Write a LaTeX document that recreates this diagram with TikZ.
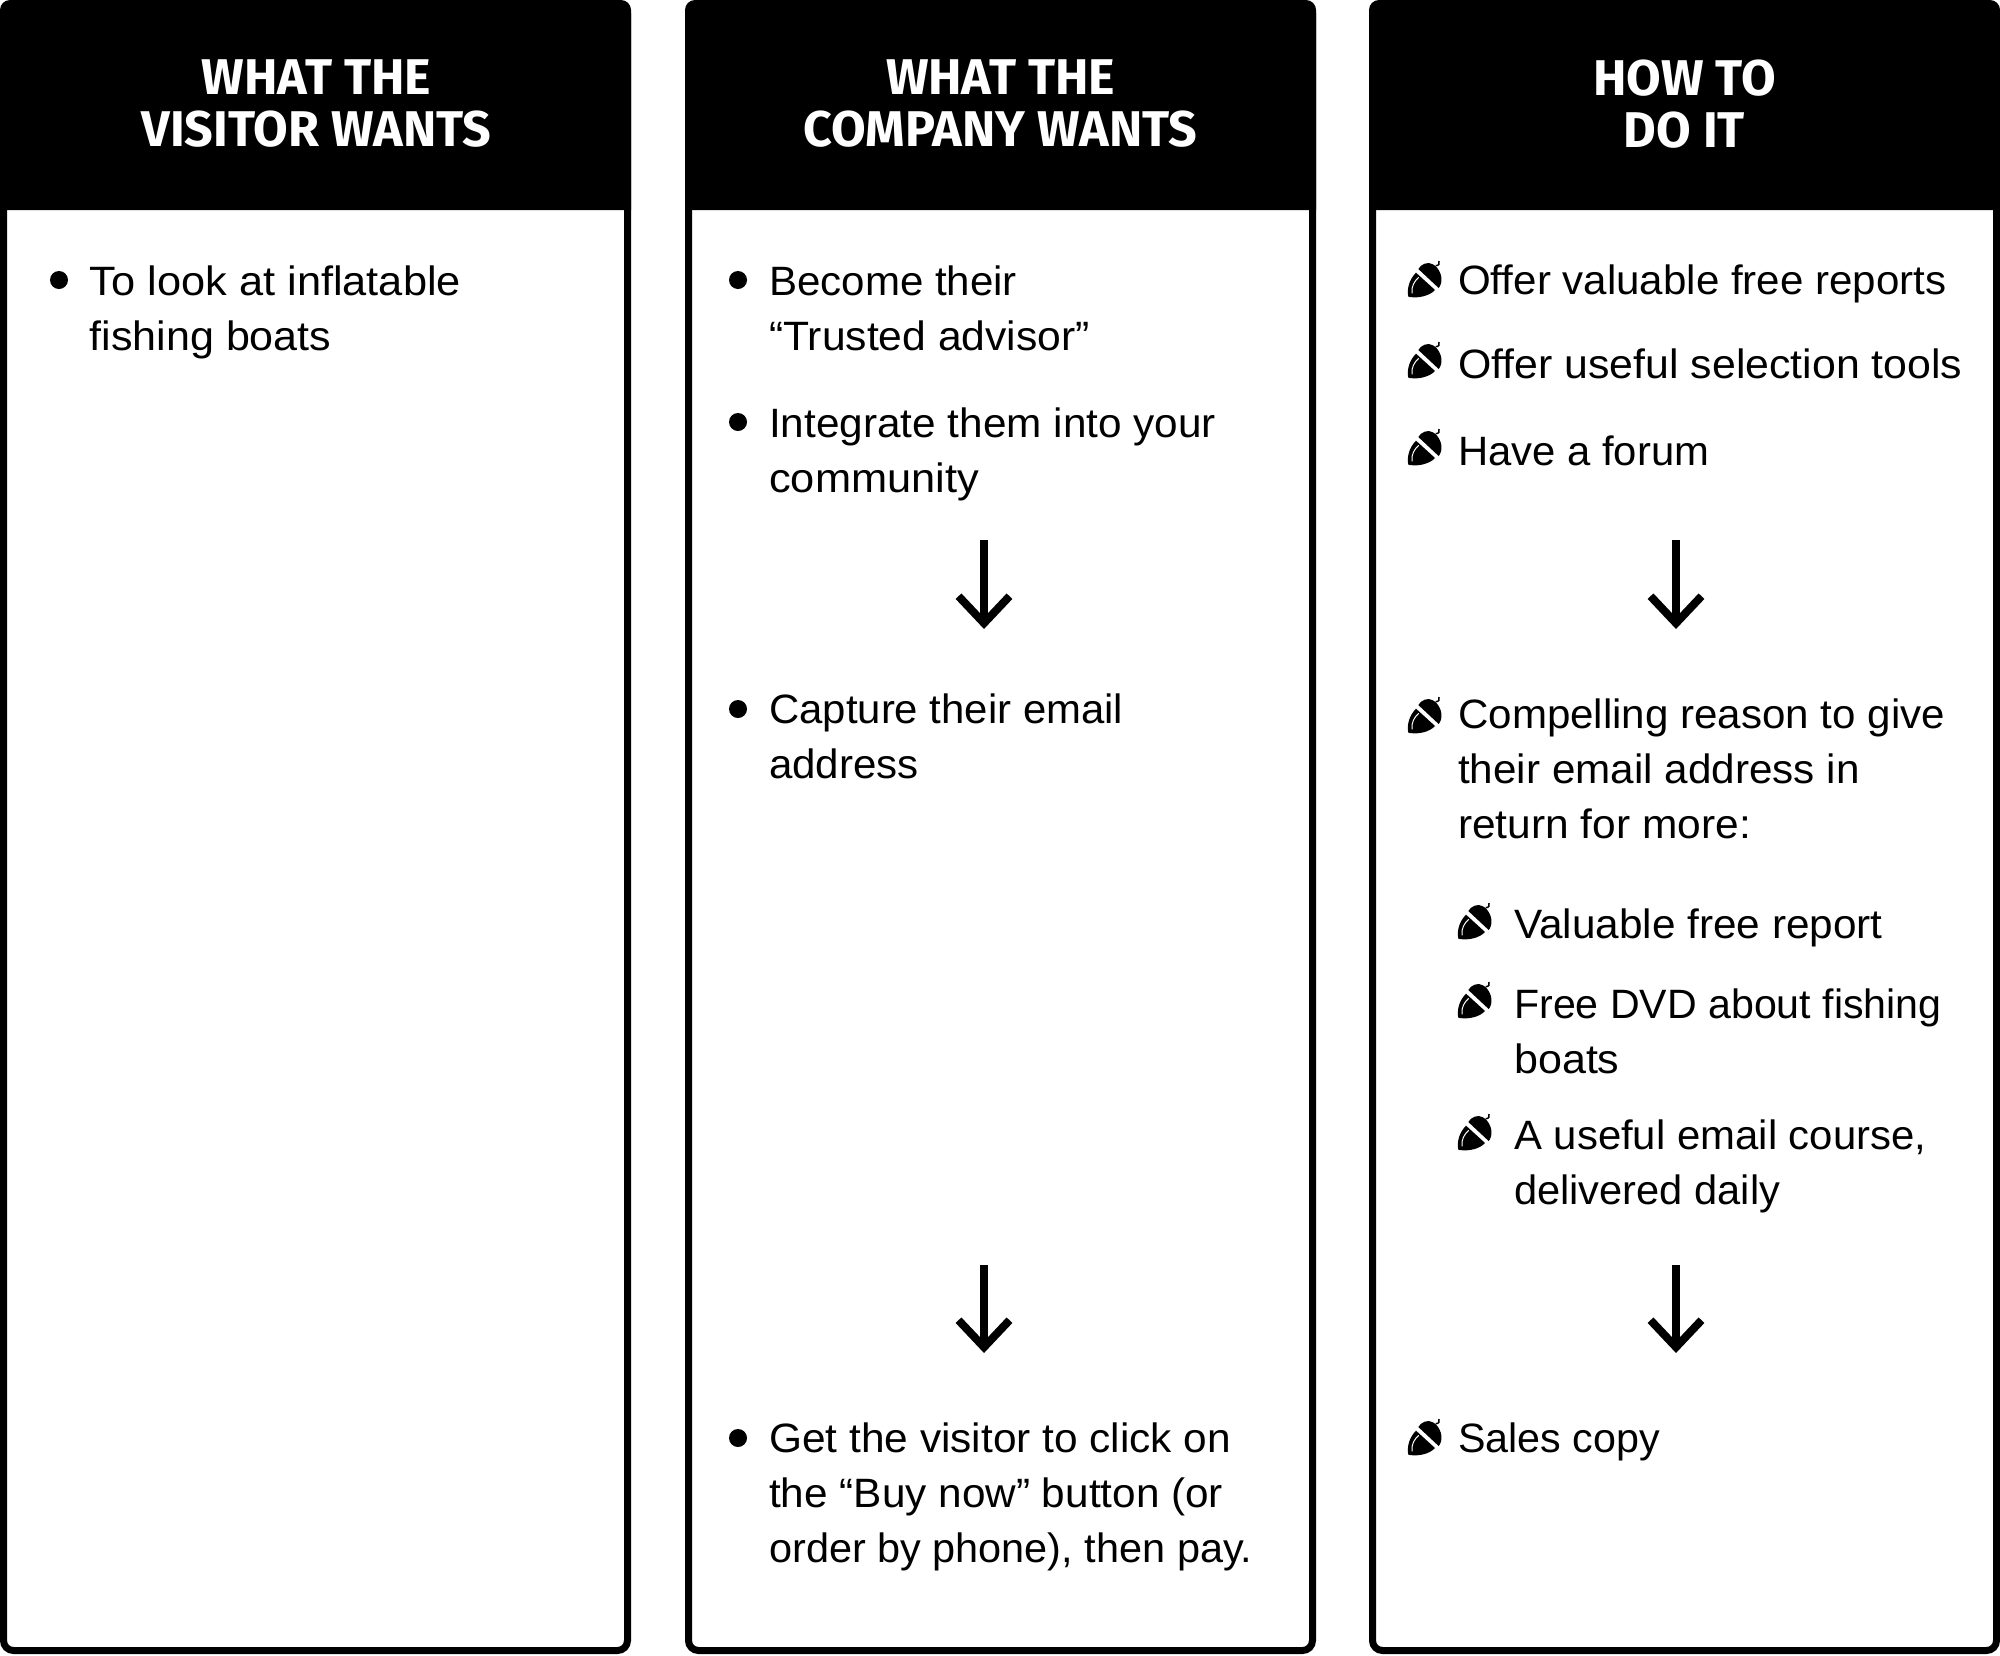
\documentclass[tikz,border=0pt]{standalone}
\usepackage{fontspec}
\setmainfont{Liberation Sans}
\newfontfamily\headfont{Fira Sans}[UprightFont=* Bold]
\usetikzlibrary{arrows.meta}
\newcommand{\sx}[2]{\scalebox{#1}[1]{#2}}
\tikzset{
  x=1pt,y=-1pt,
  panelbox/.style={draw=black,line width=7pt,rounded corners=10pt,fill=white,minimum width=624pt,minimum height=1647pt,inner sep=0pt,anchor=north west},
  headbar/.style={fill=black,rounded corners=10pt},
  headtext/.style={text=white,align=center,inner sep=0pt,anchor=center,font=\headfont\fontsize{50.2}{52}\selectfont},
  bodytext/.style={inner sep=0pt,anchor=north west,align=left,yshift=38.5pt,font=\fontsize{41}{55}\selectfont},
  dotmark/.style={circle,fill=black,inner sep=0pt,minimum size=18pt},
  flowarrow/.style={line width=7.5pt,-{Straight Barb[length=27pt,width=51pt,line width=8pt]}},
  acornicon/.pic={
    \begin{scope}[scale=1/3,shift={(-205,-146)}]
      \fill (236,62) .. controls (243,48) and (265,38) .. (280,48) .. controls (298,58) and (310,85) .. (304,105) .. controls (302,112) and (300,116) .. (297,119) -- cycle;
      \draw[line width=1.5pt] (288,52) .. controls (298,52) and (300,46) .. (298,38);
      \fill (229,73) -- (286,125) .. controls (270,142) and (240,150) .. (210,146) .. controls (206,146) and (205,144) .. (205,140) .. controls (202,115) and (212,90) .. (229,73) -- cycle;
      \draw[white,line width=1pt] (237,87) .. controls (225,97) and (214,115) .. (217,135);
    \end{scope}
  }
}
\begin{document}
\begin{tikzpicture}
\useasboundingbox (0,0) rectangle (2000,1655);
% panels
\node[panelbox] (p1) at (0,0) {};
\node[panelbox] (p2) at (685,0) {};
\node[panelbox] (p3) at (1369,0) {};
\fill[headbar] (0,210) -- (0,0) -- (631,0) [sharp corners] -- (631,210) -- cycle;
\fill[headbar] (685,210) -- (685,0) -- (1316,0) [sharp corners] -- (1316,210) -- cycle;
\fill[headbar] (1369,210) -- (1369,0) -- (2000,0) [sharp corners] -- (2000,210) -- cycle;
% headers
\node[headtext] (h1) at (316.5,104) {WHAT THE\\VISITOR WANTS};
\node[headtext] (h2) at (1000.5,104) {WHAT THE\\COMPANY WANTS};
\node[headtext] (h3) at (1684.5,104) {HOW TO\\DO IT};
% column 1
\node[dotmark] (d11) at (59,280) {};
\node[bodytext] (t11) at (89.5,295) {\strut\sx{1.058}{To look at inflatable}\\\sx{1.05}{fishing boats}};
% column 2
\node[dotmark] (d21) at (738,280) {};
\node[bodytext] (t21) at (769,295) {\strut\sx{1.026}{Become their}\\\sx{1.04}{“Trusted advisor”}};
\node[dotmark] (d22) at (738,422) {};
\node[bodytext] (t22) at (769,437) {\strut\sx{1.032}{Integrate them into your}\\\sx{1.058}{community}};
\node[dotmark] (d23) at (738,709) {};
\node[bodytext] (t23) at (769,723) {\strut\sx{1.022}{Capture their email}\\\sx{1.026}{address}};
\node[dotmark] (d24) at (738,1438) {};
\node[bodytext] (t24) at (769,1452) {\strut\sx{1.034}{Get the visitor to click on}\\\sx{1.032}{the “Buy now” button (or}\\\sx{1.011}{order by phone), then pay.}};
\coordinate (a1s) at (984,540);
\coordinate (a1e) at (984,629);
\coordinate (a2s) at (984,1265);
\coordinate (a2e) at (984,1353);
\draw[flowarrow] (a1s) -- (a1e);
\draw[flowarrow] (a2s) -- (a2e);
% column 3
\pic at (1408,297) {acornicon};
\node[bodytext] (t31) at (1458,294) {\strut\sx{1.027}{Offer valuable free reports}};
\pic at (1408,378) {acornicon};
\node[bodytext] (t32) at (1458,378) {\strut\sx{1.045}{Offer useful selection tools}};
\pic at (1408,465) {acornicon};
\node[bodytext] (t33) at (1458,465) {\strut\sx{1.02}{Have a forum}};
\pic at (1408,733) {acornicon};
\node[bodytext] (t34) at (1458,728) {\strut\sx{1.027}{Compelling reason to give}\\\sx{1.03}{their email address in}\\\sx{1.036}{return for more:}};
\pic at (1458,939) {acornicon};
\node[bodytext] (t35) at (1514,938) {\strut\sx{1.032}{Valuable free report}};
\pic at (1458,1018) {acornicon};
\node[bodytext] (t36) at (1514,1018) {\strut\sx{1.003}{Free DVD about fishing}\\\sx{1.05}{boats}};
\pic at (1458,1150) {acornicon};
\node[bodytext] (t37) at (1514,1149) {\strut\sx{1.022}{A useful email course,}\\\sx{1.015}{delivered daily}};
\pic at (1408,1455) {acornicon};
\node[bodytext] (t38) at (1458,1452) {\strut\sx{1.006}{Sales copy}};
\coordinate (a3s) at (1676,540);
\coordinate (a3e) at (1676,629);
\coordinate (a4s) at (1676,1265);
\coordinate (a4e) at (1676,1353);
\draw[flowarrow] (a3s) -- (a3e);
\draw[flowarrow] (a4s) -- (a4e);
\end{tikzpicture}
\end{document}
